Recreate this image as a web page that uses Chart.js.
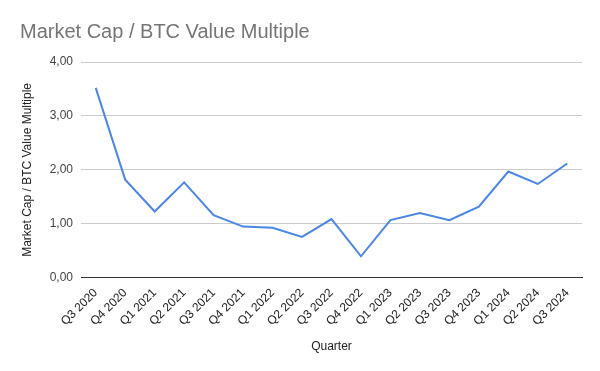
<!DOCTYPE html>
<html>
<head>
<meta charset="utf-8">
<script src="https://cdn.jsdelivr.net/npm/chart.js@4"></script>
<style>
  html, body { margin: 0; padding: 0; background: #fff; }
  #wrap { width: 600px; height: 371px; }
</style>
</head>
<body>
<div id="wrap"><canvas id="chart" width="600" height="371"></canvas></div>
<script>
// ----- Data -----
const quarters = ['Q3 2020','Q4 2020','Q1 2021','Q2 2021','Q3 2021','Q4 2021','Q1 2022','Q2 2022','Q3 2022',
                  'Q4 2022','Q1 2023','Q2 2023','Q3 2023','Q4 2023','Q1 2024','Q2 2024','Q3 2024'];
const multiple = [3.52, 1.82, 1.23, 1.77, 1.16, 0.95, 0.93, 0.76, 1.09,
                  0.40, 1.07, 1.20, 1.07, 1.32, 1.97, 1.74, 2.12];
const yTicks = [0, 1, 2, 3, 4];

const FONT = '"Liberation Sans", Arial, sans-serif';

const ctx = document.getElementById('chart').getContext('2d');
new Chart(ctx, {
  type: 'line',
  data: {
    labels: quarters,
    datasets: [{
      data: multiple,
      borderColor: '#4a86e8',
      borderWidth: 2,
      pointRadius: 0,
      tension: 0,
      fill: false
    }]
  },
  options: {
    responsive: false,
    animation: false,
    layout: { padding: { left: 20, right: 18, top: 0, bottom: 17 } },
    plugins: {
      legend: { display: false },
      tooltip: { enabled: false },
      title: {
        display: true,
        text: 'Market Cap / BTC Value Multiple',
        align: 'start',
        color: '#757575',
        font: { family: FONT, size: 20, weight: 'normal' },
        padding: { top: 20, bottom: 18 }
      }
    },
    scales: {
      x: {
        offset: true,
        grid: { display: false, drawTicks: false },
        border: { color: '#333', width: 1 },
        ticks: {
          color: '#222',
          font: { family: FONT, size: 12 },
          minRotation: 45,
          maxRotation: 45,
          autoSkip: false,
          padding: 8
        },
        title: {
          display: true,
          text: 'Quarter',
          color: '#222',
          font: { family: FONT, size: 12 },
          padding: { top: 3, bottom: 0 }
        }
      },
      y: {
        min: 0,
        max: 4,
        afterBuildTicks: s => { s.ticks = yTicks.map(v => ({ value: v })); },
        afterFit: s => { s.width = 61; },
        grid: { color: '#cccccc', drawTicks: false },
        border: { display: false },
        ticks: {
          color: '#444',
          font: { family: FONT, size: 12 },
          padding: 8,
          callback: v => v.toFixed(2).replace('.', ',')
        },
        title: {
          display: true,
          text: 'Market Cap / BTC Value Multiple',
          color: '#222',
          font: { family: FONT, size: 12 },
          padding: { top: 0, bottom: 4 }
        }
      }
    }
  }
});
</script>
</body>
</html>
